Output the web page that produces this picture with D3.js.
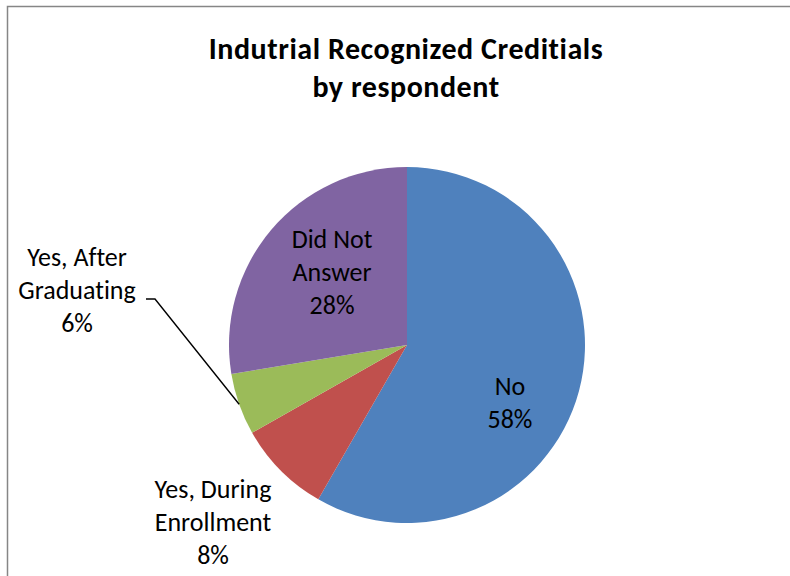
<!DOCTYPE html>
<html>
<head>
<meta charset="utf-8">
<script src="https://cdn.jsdelivr.net/npm/d3@7"></script>
<style>
  html, body { margin: 0; padding: 0; background: #fff; }
  svg { display: block; }
  text { font-family: Carlito, Calibri, Lato, "Open Sans", sans-serif; fill: #000; font-variant-ligatures: none; }
</style>
</head>
<body>
<svg id="chart" width="790" height="576"></svg>
<script>
// ---- data ----
const categories = ["No", "Yes, During Enrollment", "Yes, After Graduating", "Did Not Answer"];
const values = [58.3, 8.5, 5.6, 27.6];
const percentLabels = ["58%", "8%", "6%", "28%"];
const labelLines = [["No"], ["Yes, During", "Enrollment"], ["Yes, After", "Graduating"], ["Did Not", "Answer"]];
const colors = ["#4F81BD", "#C0504D", "#9BBB59", "#8064A2"];
const titleLines = ["Indutrial Recognized Creditials", "by respondent"];

// ---- layout ----
const W = 790, H = 576;
const cx = 407, cy = 345, R = 178;
const svg = d3.select("#chart");

// frame
svg.append("rect")
  .attr("x", 7.5).attr("y", 6.5)
  .attr("width", W + 10).attr("height", H + 10)
  .attr("fill", "none").attr("stroke", "#868686").attr("stroke-width", 1.5);

// title
const title = svg.append("text")
  .attr("text-anchor", "middle")
  .style("font-size", "30px").style("font-weight", "bold")
  .style("letter-spacing", "0.55px");
titleLines.forEach((t, i) => {
  title.append("tspan").attr("x", 406).attr("y", 59 + i * 38).text(t);
});

const pie = d3.pie().sort(null).value(d => d)(values);
const arc = d3.arc().innerRadius(0).outerRadius(R);
const g = svg.append("g").attr("transform", `translate(${cx},${cy})`);

g.selectAll("path.slice")
  .data(pie)
  .join("path")
  .attr("class", "slice")
  .attr("d", arc)
  .attr("fill", (d, i) => colors[i])
  .attr("stroke", "none");

// label anchor placement (relative to pie center)
const labelPlacement = [
  { dx: 103, dy: 50 },    // No
  { dx: -194, dy: 153 },  // Yes, During
  { dx: -330, dy: -79 },  // Yes, After
  { dx: -75, dy: -97 }    // Did Not Answer
];
const lineH = 33;

pie.forEach((d, i) => {
  const p = labelPlacement[i];
  const lines = labelLines[i].concat([percentLabels[i]]);
  const t = g.append("text")
    .attr("text-anchor", "middle")
    .style("font-size", "26px");
  lines.forEach((ln, k) => {
    t.append("tspan").attr("x", p.dx).attr("y", p.dy + k * lineH).text(ln);
  });
});

// leader line for "Yes, After Graduating"
{
  const d = pie[2];
  const mid = (d.startAngle + d.endAngle) / 2;
  const ex = Math.sin(mid) * R, ey = -Math.cos(mid) * R;
  const p = labelPlacement[2];
  g.append("path")
    .attr("d", d3.line()([[p.dx + 69, p.dy + 33], [p.dx + 78, p.dy + 33], [ex, ey]]))
    .attr("fill", "none").attr("stroke", "#000").attr("stroke-width", 1.4);
}
</script>
</body>
</html>
